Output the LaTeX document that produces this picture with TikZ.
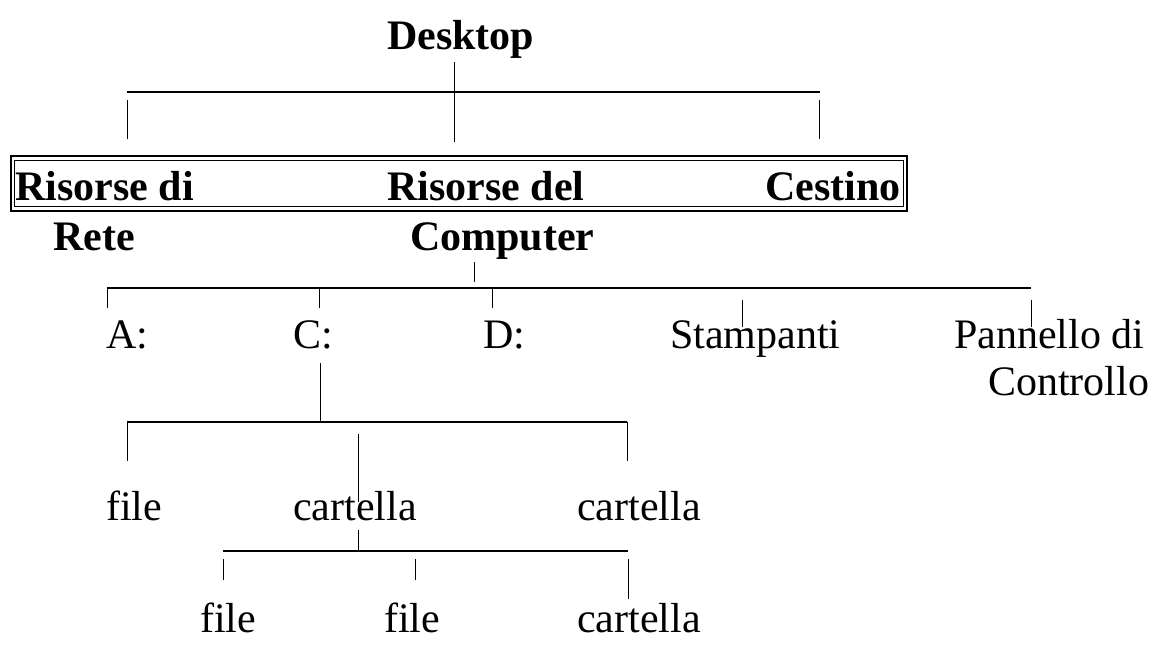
\documentclass[tikz,border=0pt]{standalone}
\usepackage{fontspec}
\setmainfont{Liberation Serif}
\begin{document}
\begin{tikzpicture}[x=1pt,y=-1pt,
  lbl/.style={anchor=base west,inner sep=0pt,font=\fontsize{42}{47}\selectfont},
  blbl/.style={lbl,font=\fontsize{42}{47}\selectfont\bfseries},
  hline/.style={line width=2pt},
  vline/.style={line width=1pt}]
\useasboundingbox (0,0) rectangle (1150,645);
% labels
\node[blbl] (desk) at (387,49) {Desktop};
\node[blbl] (rdr1) at (15,200) {Risorse di};
\node[blbl] (rdr2) at (53,250) {Rete};
\node[blbl] (rdc1) at (387,200) {Risorse del};
\node[blbl] (rdc2) at (410,250) {Computer};
\node[blbl] (cest) at (765,200) {Cestino};
\node[lbl] (a) at (106,348) {A:};
\node[lbl] (c) at (293,348) {C:};
\node[lbl] (d) at (483,348) {D:};
\node[lbl] (stamp) at (670,348) {Stampanti};
\node[lbl] (pann1) at (954,348) {Pannello di};
\node[lbl] (pann2) at (988,395) {Controllo};
\node[lbl] (f1) at (106,520) {file};
\node[lbl] (cart1) at (293,520) {cartella};
\node[lbl] (cart2) at (577,520) {cartella};
\node[lbl] (f2) at (200,632) {file};
\node[lbl] (f3) at (384,632) {file};
\node[lbl] (cart3) at (577,632) {cartella};
% double box
\draw[line width=2pt] (10.7,155.7) rectangle (907,211);
\draw[line width=1pt] (14.3,160) rectangle (903,206.7);
% level 1
\coordinate (d0) at (454,62);
\coordinate (d1) at (454,142);
\coordinate (h1l) at (127,92);
\coordinate (h1r) at (820,92);
\coordinate (l1a) at (127,100);
\coordinate (l1b) at (127,139);
\coordinate (r1a) at (819,100);
\coordinate (r1b) at (819,139);
\draw[vline] (d0) -- (d1);
\draw[hline] (h1l) -- (h1r);
\draw[vline] (l1a) -- (l1b);
\draw[vline] (r1a) -- (r1b);
% level 2
\coordinate (c0) at (474,262);
\coordinate (c1) at (474,282);
\coordinate (h2l) at (107,288);
\coordinate (h2r) at (1031,288);
\draw[vline] (c0) -- (c1);
\draw[hline] (h2l) -- (h2r);
\foreach \xx/\ya/\yb [count=\i] in {107/288/308,319/288/308,492/288/308,742/300/327,1031/300/327}{
  \coordinate (t\i a) at (\xx,\ya);
  \coordinate (t\i b) at (\xx,\yb);
  \draw[vline] (t\i a) -- (t\i b);
}
% level 3
\coordinate (cd0) at (320,363);
\coordinate (cd1) at (320,422);
\coordinate (h3l) at (127,422);
\coordinate (h3r) at (627,422);
\draw[vline] (cd0) -- (cd1);
\draw[hline] (h3l) -- (h3r);
\coordinate (u1a) at (127,422);
\coordinate (u1b) at (127,461);
\coordinate (u2a) at (358,434);
\coordinate (u2b) at (358,502);
\coordinate (u3a) at (627,422);
\coordinate (u3b) at (627,461);
\draw[vline] (u1a) -- (u1b);
\draw[vline] (u2a) -- (u2b);
\draw[vline] (u3a) -- (u3b);
% level 4
\coordinate (k0) at (358,530);
\coordinate (k1) at (358,551);
\coordinate (h4l) at (223,551);
\coordinate (h4r) at (628,551);
\draw[vline] (k0) -- (k1);
\draw[hline] (h4l) -- (h4r);
\coordinate (w1a) at (223,559);
\coordinate (w1b) at (223,580);
\coordinate (w2a) at (415,559);
\coordinate (w2b) at (415,580);
\coordinate (w3a) at (628,559);
\coordinate (w3b) at (628,599);
\draw[vline] (w1a) -- (w1b);
\draw[vline] (w2a) -- (w2b);
\draw[vline] (w3a) -- (w3b);
\end{tikzpicture}
\end{document}
